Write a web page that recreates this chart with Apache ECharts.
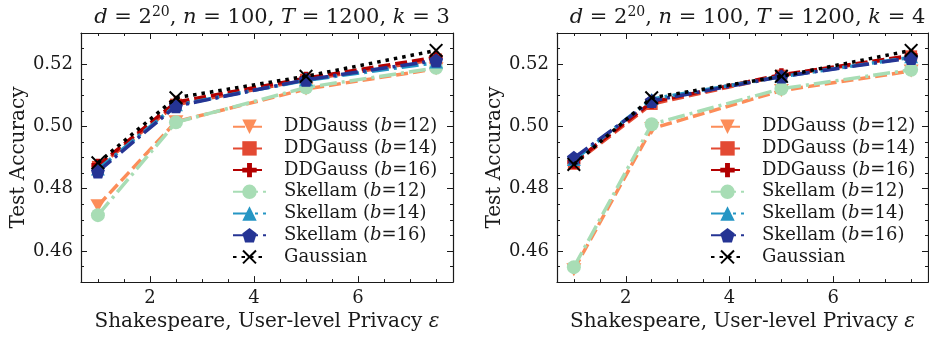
<!DOCTYPE html>
<html>
<head>
<meta charset="utf-8">
<script src="https://cdn.jsdelivr.net/npm/echarts@6/dist/echarts.min.js"></script>
<style>
  html, body { margin: 0; padding: 0; background: #fff; }
  #main { width: 929px; height: 337px; }
</style>
</head>
<body>
<div id="main"></div>
<script>
// privacy levels (x)
const epsValues = [1, 2.5, 5, 7.5];

const seriesNames = [
  'DDGauss (b=12)', 'DDGauss (b=14)', 'DDGauss (b=16)',
  'Skellam (b=12)', 'Skellam (b=14)', 'Skellam (b=16)',
  'Gaussian'
];

// k = 3 panel
const k3DDGauss12 = [0.4745, 0.5015, 0.5120, 0.5185];
const k3DDGauss14 = [0.4870, 0.5070, 0.5150, 0.5215];
const k3DDGauss16 = [0.4875, 0.5078, 0.5155, 0.5222];
const k3Skellam12 = [0.4715, 0.5013, 0.5125, 0.5188];
const k3Skellam14 = [0.4862, 0.5068, 0.5148, 0.5205];
const k3Skellam16 = [0.4855, 0.5065, 0.5150, 0.5212];
const k3Gaussian  = [0.4883, 0.5092, 0.5161, 0.5244];

// k = 4 panel
const k4DDGauss12 = [0.4540, 0.4993, 0.5115, 0.5178];
const k4DDGauss14 = [0.4880, 0.5072, 0.5163, 0.5225];
const k4DDGauss16 = [0.4885, 0.5078, 0.5166, 0.5228];
const k4Skellam12 = [0.4548, 0.5007, 0.5121, 0.5182];
const k4Skellam14 = [0.4892, 0.5088, 0.5160, 0.5222];
const k4Skellam16 = [0.4899, 0.5082, 0.5160, 0.5220];
const k4Gaussian  = [0.4878, 0.5092, 0.5161, 0.5244];

// ticks
const xMajorTicks = [2, 4, 6];
const xMinorTicks = [1, 1.5, 2.5, 3, 3.5, 4.5, 5, 5.5, 6.5, 7, 7.5];
const yMajorTicks = [0.46, 0.48, 0.50, 0.52];
const yMinorTicks = [0.455, 0.465, 0.47, 0.475, 0.485, 0.49, 0.495, 0.505, 0.51, 0.515, 0.525];

const panelK = [3, 4];
const panelData = [
  [k3DDGauss12, k3DDGauss14, k3DDGauss16, k3Skellam12, k3Skellam14, k3Skellam16, k3Gaussian],
  [k4DDGauss12, k4DDGauss14, k4DDGauss16, k4Skellam12, k4Skellam14, k4Skellam16, k4Gaussian]
];

const FONT = 'DejaVu Serif';
const INK = '#1a1a1a';

const sym = {
  triDown: 'path://M0,0 L10,0 L5,8.66 Z',
  square: 'rect',
  plus: 'path://M3.3,0 H6.7 V3.3 H10 V6.7 H6.7 V10 H3.3 V6.7 H0 V3.3 H3.3 Z',
  circle: 'circle',
  triUp: 'triangle',
  pentagon: 'path://M5,0 L9.76,3.45 L7.94,9.05 L2.06,9.05 L0.24,3.45 Z',
  cross: 'path://M0,1 L1,0 L5,4 L9,0 L10,1 L6,5 L10,9 L9,10 L5,6 L1,10 L0,9 L4,5 Z'
};

const styles = [
  { color: '#fc8d59', symbol: sym.triDown, size: [15, 13], dash: [12, 5] },
  { color: '#e34a33', symbol: sym.square, size: 12, dash: [12, 5] },
  { color: '#b30000', symbol: sym.plus, size: 13, dash: [12, 5] },
  { color: '#a8ddb5', symbol: sym.circle, size: 14, dash: [17, 5, 3, 5] },
  { color: '#2596c4', symbol: sym.triUp, size: [14, 12], dash: [17, 5, 3, 5] },
  { color: '#253494', symbol: sym.pentagon, size: 14, dash: [17, 5, 3, 5] },
  { color: '#000000', symbol: sym.cross, size: 14, dash: [3.5, 5] }
];

const grids = [
  { left: 81, top: 33, width: 372, height: 250 },
  { left: 557, top: 33, width: 371, height: 250 }
];

const xAxes = [];
const yAxes = [];
const mainX = [];
const mainY = [];

function addX(g, pos, ticks, len, withLabel, withLine) {
  xAxes.push({
    type: 'value', gridIndex: g, position: pos, min: 0.675, max: 7.825,
    axisLine: { show: withLine, onZero: false, lineStyle: { color: INK, width: 1.2 } },
    axisTick: { show: true, inside: true, length: len, customValues: ticks, lineStyle: { color: INK } },
    axisLabel: withLabel
      ? { show: true, customValues: xMajorTicks, margin: 7, color: INK, fontFamily: FONT, fontSize: 18 }
      : { show: false },
    splitLine: { show: false },
    name: withLabel ? 'Shakespeare, User-level Privacy {i|ε}' : '',
    nameLocation: 'middle', nameGap: 27,
    nameTextStyle: {
      color: INK, fontFamily: FONT, fontSize: 20,
      rich: { i: { fontFamily: FONT, fontStyle: 'italic', fontSize: 20, color: INK } }
    }
  });
  return xAxes.length - 1;
}

function addY(g, pos, ticks, len, withLabel, withLine) {
  yAxes.push({
    type: 'value', gridIndex: g, position: pos, min: 0.45, max: 0.53,
    axisLine: { show: withLine, onZero: false, lineStyle: { color: INK, width: 1.2 } },
    axisTick: { show: true, inside: true, length: len, customValues: ticks, lineStyle: { color: INK } },
    axisLabel: withLabel
      ? { show: true, customValues: yMajorTicks, margin: 8, color: INK, fontFamily: FONT, fontSize: 18,
          formatter: v => v.toFixed(2) }
      : { show: false },
    splitLine: { show: false },
    name: withLabel ? 'Test Accuracy' : '',
    nameLocation: 'middle', nameGap: 50,
    nameTextStyle: { color: INK, fontFamily: FONT, fontSize: 20 }
  });
  return yAxes.length - 1;
}

grids.forEach((gr, g) => {
  mainX.push(addX(g, 'bottom', xMajorTicks, 6, true, true));
  addX(g, 'bottom', xMinorTicks, 3, false, false);
  addX(g, 'top', xMajorTicks, 6, false, true);
  addX(g, 'top', xMinorTicks, 3, false, false);
  mainY.push(addY(g, 'left', yMajorTicks, 6, true, true));
  addY(g, 'left', yMinorTicks, 3, false, false);
  addY(g, 'right', yMajorTicks, 6, false, true);
  addY(g, 'right', yMinorTicks, 3, false, false);
});

const series = [];
panelData.forEach((rows, g) => {
  rows.forEach((vals, i) => {
    const st = styles[i];
    series.push({
      name: seriesNames[i],
      type: 'line',
      xAxisIndex: mainX[g],
      yAxisIndex: mainY[g],
      data: epsValues.map((x, j) => [x, vals[j]]),
      symbol: st.symbol,
      symbolSize: st.size,
      showSymbol: true,
      itemStyle: { color: st.color },
      lineStyle: { color: st.color, width: 3.5, type: st.dash, cap: 'butt' },
      animation: false,
      z: 2 + i
    });
  });
});

function titleText(k) {
  return '{i|d}{r| = 2}{s|20}{r|, }{i|n}{r| = 100, }{i|T}{r| = 1200, }{i|k}{r| = ' + k + '}';
}

const titleRich = {
  r: { fontFamily: FONT, fontSize: 21, color: INK, verticalAlign: 'bottom' },
  i: { fontFamily: FONT, fontStyle: 'italic', fontSize: 21, color: INK, verticalAlign: 'bottom' },
  s: { fontFamily: FONT, fontSize: 14, color: INK, verticalAlign: 'bottom', padding: [0, 0, 9, 0] }
};

function legendFmt(name) {
  const m = name.match(/^(\w+) \(b=(\d+)\)$/);
  if (!m) return '{t|' + name + '}';
  return '{t|' + m[1] + ' (}{i|b}{t|=' + m[2] + ')}';
}

const legendRich = {
  t: { fontFamily: FONT, fontSize: 18, color: INK, lineHeight: 18 },
  i: { fontFamily: FONT, fontStyle: 'italic', fontSize: 18, color: INK, lineHeight: 18 }
};

const legendBase = {
  orient: 'vertical',
  data: seriesNames,
  itemWidth: 33,
  itemHeight: 18,
  itemGap: 3.7,
  padding: 0,
  formatter: legendFmt,
  textStyle: { fontFamily: FONT, fontSize: 18, lineHeight: 18, color: INK, padding: [0, 0, 0, 13], rich: legendRich }
};

const option = {
  backgroundColor: '#fff',
  animation: false,
  title: panelK.map((k, g) => ({
    text: titleText(k),
    left: grids[g].left + grids[g].width / 2,
    textAlign: 'center',
    top: 0,
    textStyle: { fontFamily: FONT, fontSize: 21, color: INK, rich: titleRich, fontWeight: 'normal' }
  })),
  grid: grids,
  xAxis: xAxes,
  yAxis: yAxes,
  legend: [
    Object.assign({}, legendBase, { left: 232, top: 117.7 }),
    Object.assign({}, legendBase, { left: 710, top: 117.7 })
  ],
  series: series
};

const chart = echarts.init(document.getElementById('main'), null, { renderer: 'canvas' });
chart.setOption(option);
</script>
</body>
</html>
